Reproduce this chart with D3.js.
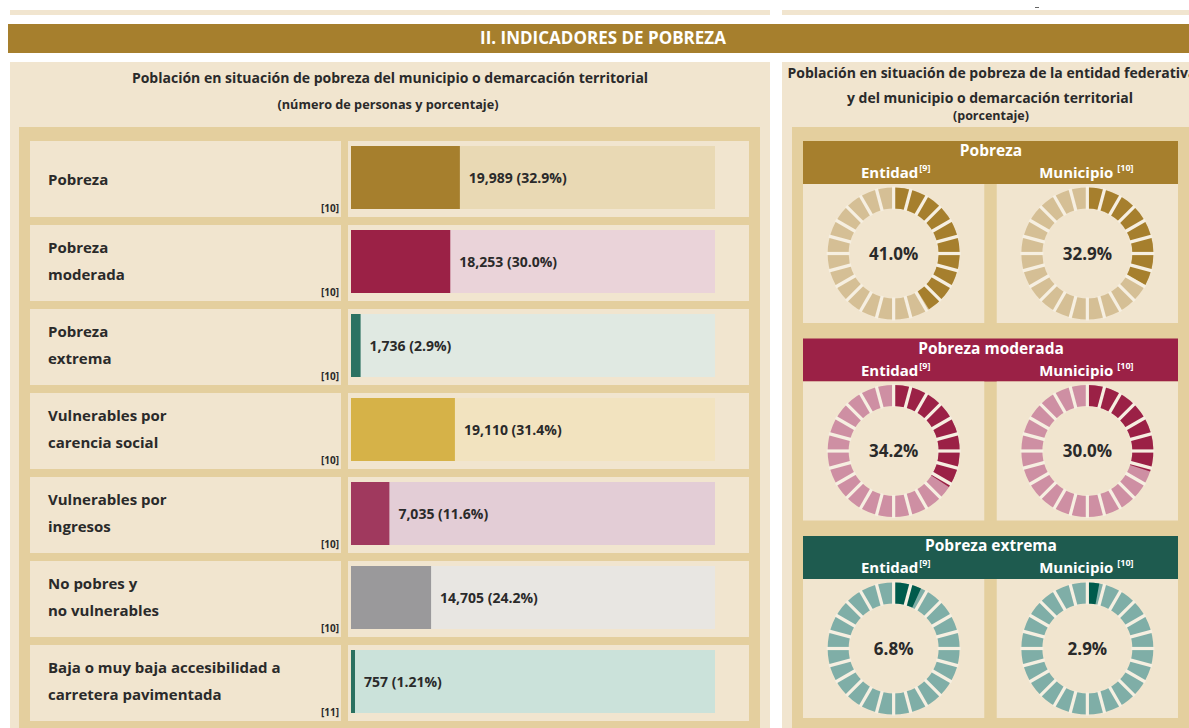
<!DOCTYPE html>
<html>
<head>
<meta charset="utf-8">
<script src="https://cdn.jsdelivr.net/npm/d3@7"></script>
<style>
  body { margin: 0; background: #ffffff; }
  svg { display: block; }
  .cond { font-family: "Open Sans", sans-serif; font-weight: 700; font-stretch: 88%; }
  .reg { font-family: "Open Sans", sans-serif; font-weight: 700; }
</style>
</head>
<body>
<svg id="chart" width="1189" height="728"></svg>
<script>
// ---------- data ----------
const categories = ["Pobreza", "Pobreza moderada", "Pobreza extrema", "Vulnerables por carencia social",
  "Vulnerables por ingresos", "No pobres y no vulnerables", "Baja o muy baja accesibilidad a carretera pavimentada"];
const labelLines = [["Pobreza"], ["Pobreza", "moderada"], ["Pobreza", "extrema"], ["Vulnerables por", "carencia social"],
  ["Vulnerables por", "ingresos"], ["No pobres y", "no vulnerables"], ["Baja o muy baja accesibilidad a", "carretera pavimentada"]];
const persons = [19989, 18253, 1736, 19110, 7035, 14705, 757];
const percents = [32.9, 30.0, 2.9, 31.4, 11.6, 24.2, 1.21];
const percentDecimals = [1, 1, 1, 1, 1, 1, 2];
const footnotes = ["[10]", "[10]", "[10]", "[10]", "[10]", "[10]", "[11]"];
const barColors = ["#a67f2d", "#9b2146", "#2c7262", "#d6b248", "#a0395e", "#9a999b", "#2a7060"];
const barBgColors = ["#e9d9b4", "#ead3d9", "#e0e9e2", "#f2e3bf", "#e3cdd6", "#e8e6e2", "#cbe2da"];

const donutGroups = ["Pobreza", "Pobreza moderada", "Pobreza extrema"];
const entidadValues = [41.0, 34.2, 6.8];
const municipioValues = [32.9, 30.0, 2.9];
const donutDark = ["#a67f2d", "#9b2146", "#005b4c"];
const donutLight = ["#d5bf95", "#ce8fa3", "#7faea7"];
const headerColors = ["#a67f2d", "#9b2146", "#1e5b4f"];
const columnLabels = ["Entidad", "Municipio"];
const columnNotes = ["[9]", "[10]"];
const segmentCount = 24;

// ---------- setup ----------
const svg = d3.select("#chart");
const CREAM = "#f1e5cf", TAN = "#e4cf9e", TEXT = "#2a2a2a";

// top strips
svg.append("rect").attr("x", 10).attr("y", 10).attr("width", 760).attr("height", 5).attr("fill", CREAM);
svg.append("rect").attr("x", 782).attr("y", 10).attr("width", 407).attr("height", 5).attr("fill", CREAM);
svg.append("rect").attr("x", 1035).attr("y", 7).attr("width", 4).attr("height", 1).attr("fill", "#666");

// header band
svg.append("rect").attr("x", 8).attr("y", 24).attr("width", 1181).attr("height", 29).attr("fill", "#a67f2d");
svg.append("text").attr("class", "cond").attr("x", 603).attr("y", 44).attr("text-anchor", "middle")
  .attr("fill", "#fff").attr("font-size", 17).text("II. INDICADORES DE POBREZA");

// ---------- left panel ----------
svg.append("rect").attr("x", 10).attr("y", 62).attr("width", 760).attr("height", 666).attr("fill", CREAM);
svg.append("text").attr("class", "cond").attr("x", 390).attr("y", 83).attr("text-anchor", "middle")
  .attr("fill", TEXT).attr("font-size", 14).text("Población en situación de pobreza del municipio o demarcación territorial");
svg.append("text").attr("class", "cond").attr("x", 388).attr("y", 109).attr("text-anchor", "middle")
  .attr("fill", TEXT).attr("font-size", 12.7).text("(número de personas y porcentaje)");
svg.append("rect").attr("x", 19).attr("y", 127).attr("width", 741).attr("height", 601).attr("fill", TAN);

const y = d3.scaleBand().domain(categories).range([141, 721]).paddingInner(8 / 84).paddingOuter(0);
const barX0 = 351, barW = 364;
const x = d3.scaleLinear().domain([0, 110]).range([0, barW]);

const rows = svg.append("g").selectAll("g").data(categories).join("g")
  .attr("transform", d => `translate(0,${y(d)})`);
const bh = y.bandwidth();

rows.append("rect").attr("x", 30).attr("y", 0).attr("width", 311).attr("height", bh).attr("fill", CREAM);
rows.append("rect").attr("x", 348).attr("y", 0).attr("width", 401).attr("height", bh).attr("fill", CREAM);
rows.append("rect").attr("x", barX0).attr("y", 5).attr("width", barW).attr("height", 63)
  .attr("fill", (d, i) => barBgColors[i]);
rows.append("rect").attr("x", barX0).attr("y", 5).attr("width", (d, i) => x(percents[i])).attr("height", 63)
  .attr("fill", (d, i) => barColors[i]);
rows.append("text").attr("class", "cond").attr("x", (d, i) => barX0 + x(percents[i]) + 9)
  .attr("y", 5 + 63 / 2 + 5).attr("fill", TEXT).attr("font-size", 14)
  .text((d, i) => d3.format(",")(persons[i]) + " (" + percents[i].toFixed(percentDecimals[i]) + "%)");

rows.each(function (d, i) {
  const g = d3.select(this);
  const lines = labelLines[i];
  const mid = bh / 2 + 5;
  lines.forEach((ln, j) => {
    const yy = lines.length === 1 ? mid + 1 : mid - 15 + j * 27;
    g.append("text").attr("class", "cond").attr("x", 48).attr("y", yy)
      .attr("fill", TEXT).attr("font-size", 15).text(ln);
  });
  g.append("text").attr("class", "cond").attr("x", 339).attr("y", bh - 5).attr("text-anchor", "end")
    .attr("fill", TEXT).attr("font-size", 10).text(footnotes[i]);
});

// ---------- right panel ----------
svg.append("rect").attr("x", 782).attr("y", 62).attr("width", 420).attr("height", 666).attr("fill", CREAM);
svg.append("text").attr("class", "reg").attr("x", 992).attr("y", 78).attr("text-anchor", "middle")
  .attr("fill", TEXT).attr("font-size", 14).text("Población en situación de pobreza de la entidad federativa");
svg.append("text").attr("class", "reg").attr("x", 990).attr("y", 103).attr("text-anchor", "middle")
  .attr("fill", TEXT).attr("font-size", 14).text("y del municipio o demarcación territorial");
svg.append("text").attr("class", "reg").attr("x", 991).attr("y", 120).attr("text-anchor", "middle")
  .attr("fill", TEXT).attr("font-size", 12.5).text("(porcentaje)");
svg.append("rect").attr("x", 792).attr("y", 127).attr("width", 410).attr("height", 601).attr("fill", TAN);

const blockY = d3.scaleBand().domain(donutGroups).range([141, 718]).paddingInner(15.5 / 197.5).paddingOuter(0);
const colX = d3.scaleBand().domain(columnLabels).range([803, 1178]).paddingInner(12 / 187);
const angle = d3.scaleLinear().domain([0, 100]).range([0, 2 * Math.PI]);
const rOuter = 66, rInner = 45;
const arc = d3.arc().innerRadius(rInner).outerRadius(rOuter);

donutGroups.forEach((grp, gi) => {
  const top = blockY(grp);
  const g = svg.append("g");
  g.append("rect").attr("x", 803).attr("y", top).attr("width", 375).attr("height", 43).attr("fill", headerColors[gi]);
  g.append("text").attr("class", "reg").attr("x", 991).attr("y", top + 15).attr("text-anchor", "middle")
    .attr("fill", "#fff").attr("font-size", 15.5).text(grp);
  const vals = [entidadValues[gi], municipioValues[gi]];
  columnLabels.forEach((col, ci) => {
    const cx0 = colX(col);
    const cw = colX.bandwidth();
    const t = g.append("text").attr("class", "reg").attr("x", cx0 + cw / 2 + (ci === 0 ? 2 : -1)).attr("y", top + 37)
      .attr("text-anchor", "middle").attr("fill", "#fff").attr("font-size", 15);
    t.append("tspan").text(col);
    t.append("tspan").attr("font-size", 9).attr("dy", -7).attr("dx", ci === 0 ? 1 : 4).text(columnNotes[ci]);
    g.append("rect").attr("x", cx0).attr("y", top + 43).attr("width", cw).attr("height", 139).attr("fill", CREAM);
    const cx = cx0 + cw / 2, cy = top + 43 + 139 / 2;
    const dg = g.append("g").attr("transform", `translate(${cx},${cy})`);
    dg.append("path").attr("d", arc({ startAngle: 0, endAngle: angle(100) })).attr("fill", donutLight[gi]);
    dg.append("path").attr("d", arc({ startAngle: 0, endAngle: angle(vals[ci]) })).attr("fill", donutDark[gi]);
    const segs = d3.range(segmentCount);
    dg.selectAll("line").data(segs).join("line")
      .attr("x1", s => Math.sin(angle(s * 100 / segmentCount)) * (rInner - 1))
      .attr("y1", s => -Math.cos(angle(s * 100 / segmentCount)) * (rInner - 1))
      .attr("x2", s => Math.sin(angle(s * 100 / segmentCount)) * (rOuter + 1))
      .attr("y2", s => -Math.cos(angle(s * 100 / segmentCount)) * (rOuter + 1))
      .attr("stroke", "#f6efe1").attr("stroke-width", 3.2);
    dg.append("text").attr("class", "reg").attr("text-anchor", "middle").attr("y", 6)
      .attr("fill", TEXT).attr("font-size", 17).text(vals[ci].toFixed(1) + "%");
  });
});
</script>
</body>
</html>
